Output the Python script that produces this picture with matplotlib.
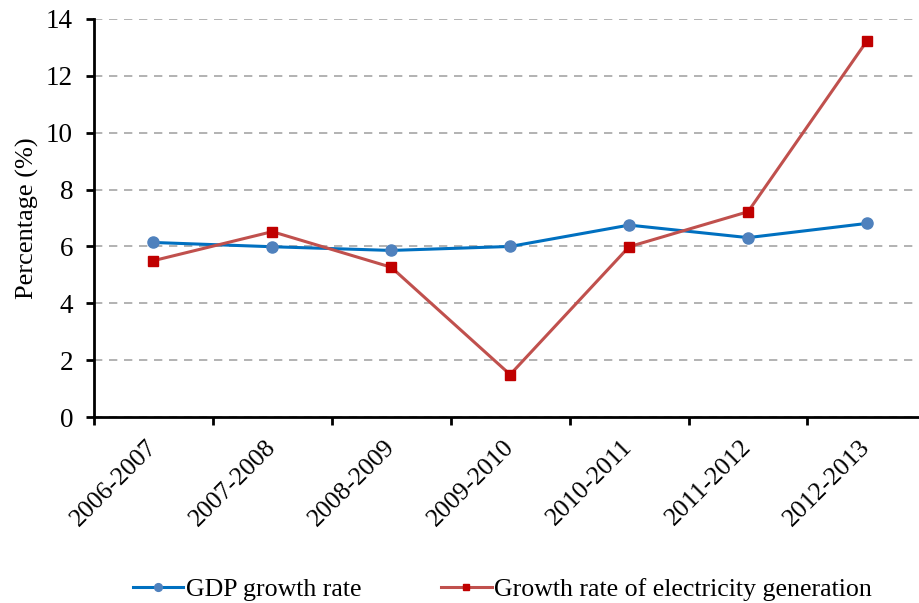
import numpy as np
import matplotlib.pyplot as plt

periods = ['2006-2007', '2007-2008', '2008-2009', '2009-2010',
           '2010-2011', '2011-2012', '2012-2013']
gdp_growth = [6.14, 5.99, 5.86, 6.0, 6.75, 6.31, 6.81]
elec_growth = [5.5, 6.52, 5.27, 1.5, 5.99, 7.22, 13.22]
y_ticks = [0, 2, 4, 6, 8, 10, 12, 14]

plt.rcParams['font.family'] = ['Liberation Serif', 'DejaVu Serif']

fig = plt.figure(figsize=(9.2, 6.03), dpi=100)
ax = fig.add_axes([0.102, 0.308, 0.905, 0.661])

x = np.arange(len(periods))
ax.plot(x, gdp_growth, color='#0070C0', lw=2.2, marker='o', ms=8,
        mfc='#4F81BD', mec='#4F81BD', label='GDP growth rate', zorder=3)
ax.plot(x, elec_growth, color='#C0504D', lw=2.2, marker='s', ms=7,
        mfc='#C00000', mec='#C00000',
        label='Growth rate of electricity generation', zorder=3)

ax.set_xlim(-0.5, len(periods) - 0.5)
ax.set_ylim(0, 14)
ax.set_yticks(y_ticks)
ax.set_yticklabels([str(v) for v in y_ticks], fontsize=19.5)
ax.yaxis.grid(True, ls=(0, (5, 4)), color='#A6A6A6', lw=1.2)
ax.set_axisbelow(True)

# category labels centred, tick marks on the boundaries
ax.set_xticks(np.arange(-0.5, len(periods)), minor=False)
ax.set_xticklabels([])
ax.set_xticks(x, minor=True)
ax.set_xticklabels(periods, minor=True, rotation=45, ha='right', va='center',
                   rotation_mode='anchor', fontsize=18.5)
ax.tick_params(axis='x', which='minor', length=0, pad=19)
ax.tick_params(axis='x', which='major', length=6, width=2, direction='out')
ax.tick_params(axis='y', length=6, width=2, direction='out', pad=9)

for side in ['top', 'right']:
    ax.spines[side].set_visible(False)
for side in ['left', 'bottom']:
    ax.spines[side].set_linewidth(2)

ax.set_ylabel('Percentage (%)', fontsize=19, labelpad=5)

fig.legend(loc='lower center', ncol=2, frameon=False, fontsize=18.6,
           bbox_to_anchor=(0.546, -0.035), handlelength=1.95, handletextpad=0.1,
           columnspacing=3.1, markerscale=0.7)

fig.savefig('out.png', dpi=100)
